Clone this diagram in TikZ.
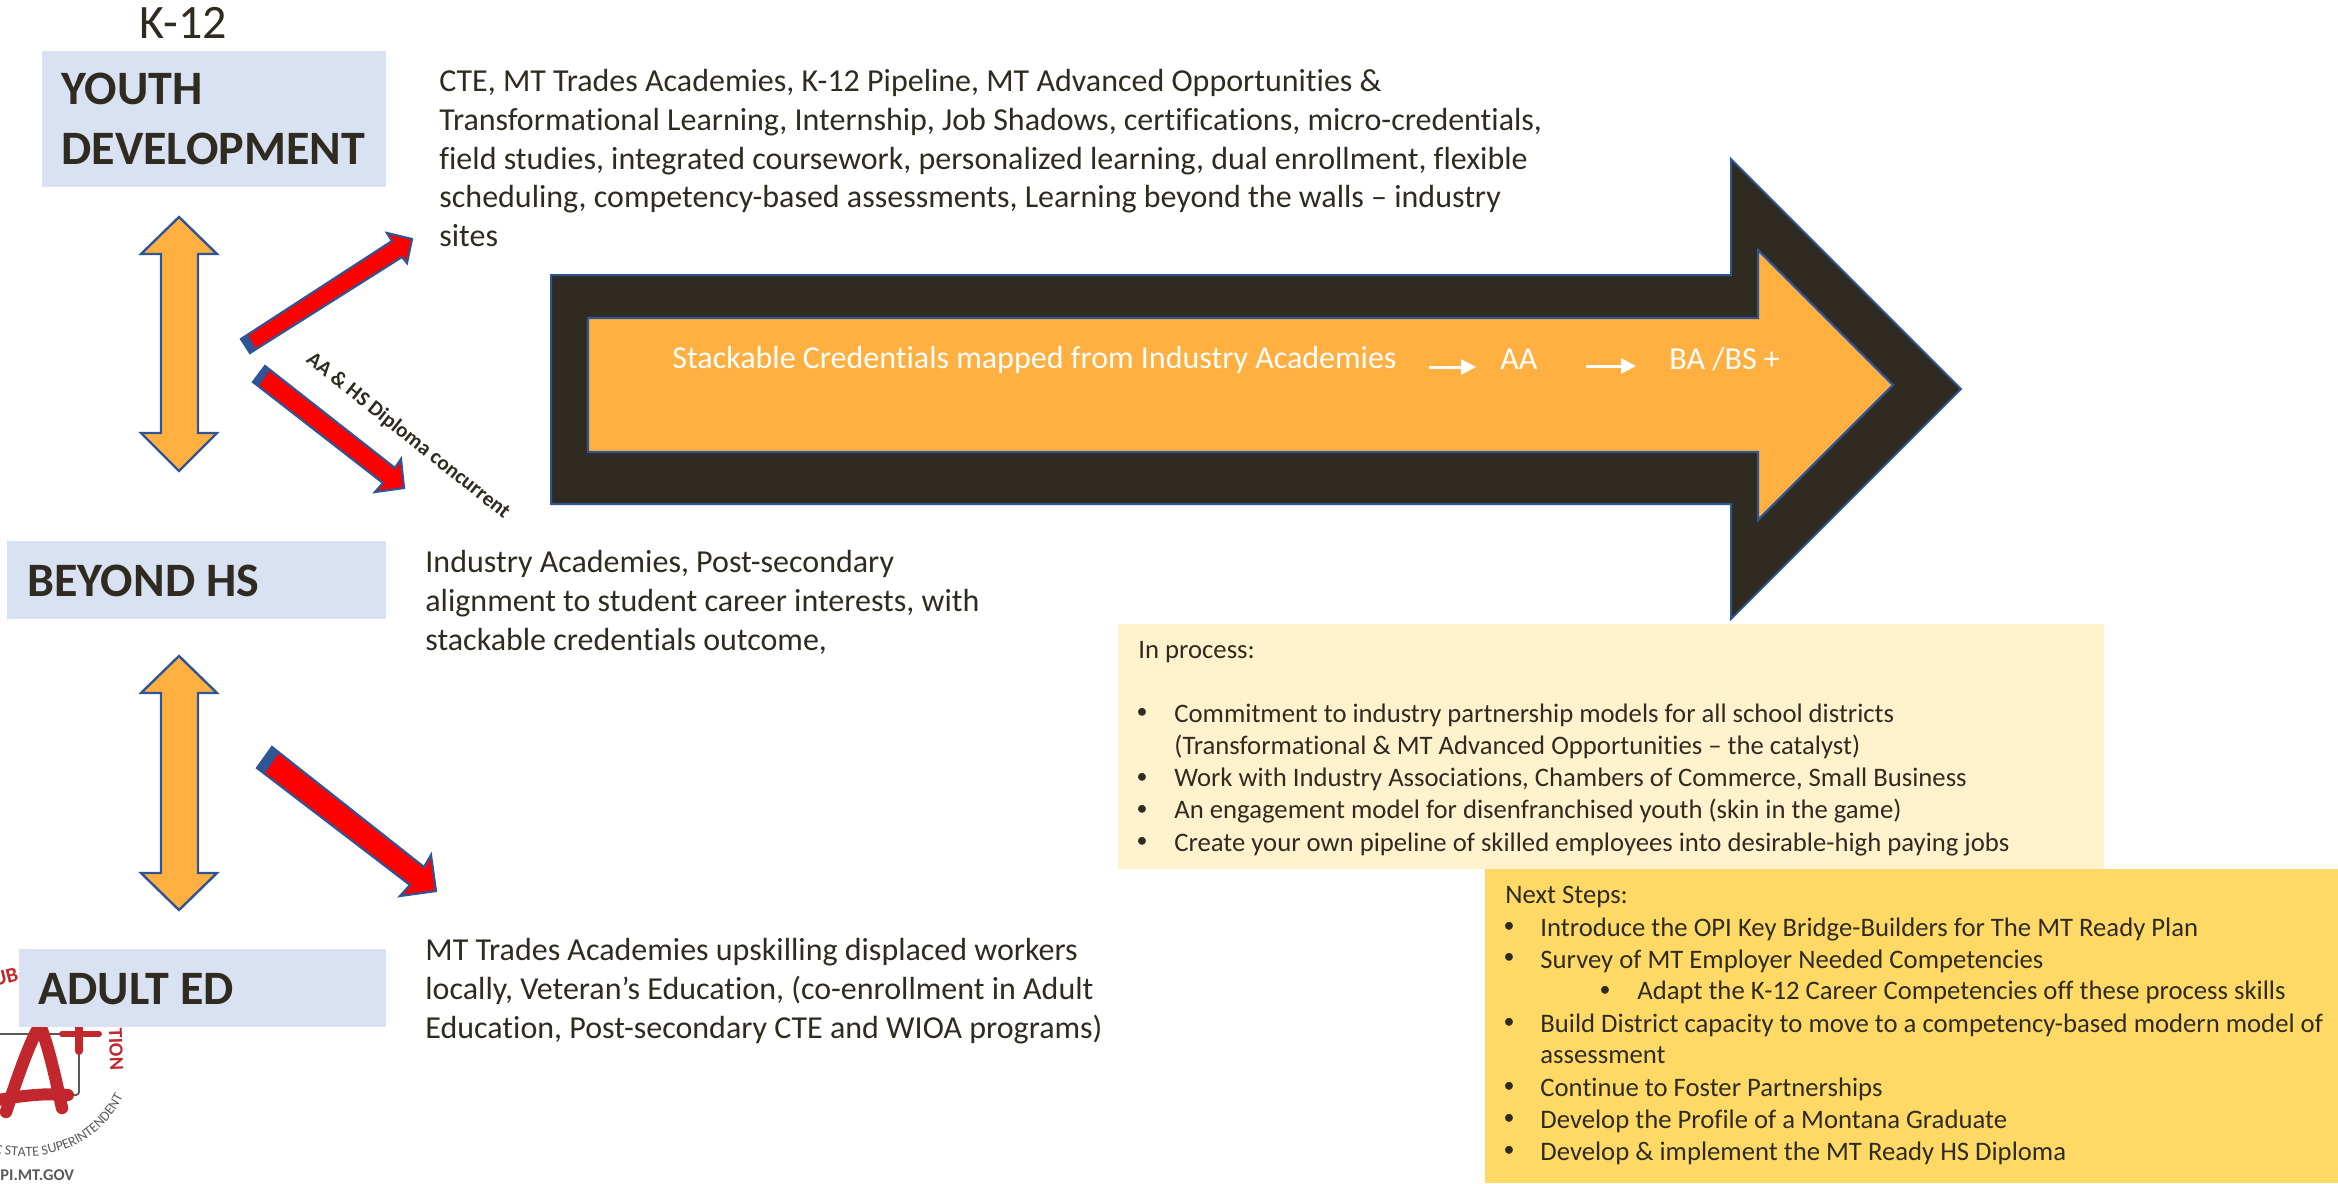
\documentclass[tikz,border=0pt]{standalone}
\usepackage{fontspec}
\setmainfont[Ligatures=CommonOff]{Carlito}
\usetikzlibrary{decorations.text,arrows.meta}
\definecolor{ink}{HTML}{2F2B20}
\definecolor{bluefill}{HTML}{D9E2F3}
\definecolor{orangefill}{HTML}{FFB041}
\definecolor{edge}{HTML}{2F5597}
\definecolor{pale}{HTML}{FFF2CC}
\definecolor{gold}{HTML}{FFD966}
\definecolor{logored}{HTML}{C1272D}
\definecolor{loggray}{HTML}{58595B}
\tikzset{
 x=0.5pt,y=-0.5pt,
 headtxt/.style={font=\fontsize{24}{29.8}\selectfont\bfseries,text=ink,inner sep=0,align=left,anchor=west},
 bodytxt/.style={font=\fontsize{16}{19.35}\selectfont,text=ink,inner sep=0,align=left,anchor=north west},
 smalltxt/.style={font=\fontsize{13.35}{16}\selectfont,text=ink,inner sep=0,anchor=base west},
 bult/.style={font=\fontsize{11}{12}\selectfont,text=ink,inner sep=0,anchor=center},
 whitetxt/.style={anchor=base west,inner sep=0,text=white,font=\fontsize{16}{19}\selectfont},
 dbl/.style={fill=orangefill,draw=edge,line width=1.2pt,miter limit=10},
 redarrow/.style={fill=red,draw=edge,line width=1.1pt,line join=miter},
 bigout/.style={fill=ink,draw=edge,line width=1pt},
 bigin/.style={fill=orangefill,draw=edge,line width=1.2pt},
 wht/.style={draw=white,line width=1.5pt,-{Triangle[length=7.5pt,width=7.5pt]}},
}
\begin{document}
\begin{tikzpicture}
\useasboundingbox (0,0) rectangle (2338,1183);
% logo
\draw[loggray,line width=0.9pt,rounded corners=1.5pt] (0,1034) -- (79,1034) -- (79,1095) -- (0,1095);
\draw[logored,line width=6.2pt,line cap=round,line join=round] (6,1112) .. controls (15,1085) and (28,1045) .. (40,1025) .. controls (50,1050) and (58,1090) .. (62,1108);
\draw[logored,line width=6pt,line cap=round] (-2,1100) .. controls (25,1095) and (50,1093) .. (68,1095);
\draw[logored,line width=3pt,line cap=round] (62,1034) -- (99,1034);
\draw[logored,line width=4pt,line cap=round] (79,1020) -- (79,1051);
\node (tion) [rotate=-88,text=logored,font=\fontsize{10}{10}\selectfont\bfseries,inner sep=0] at (116,1049) {TION};
\node (ub) [anchor=east,rotate=14,text=logored,font=\fontsize{10.5}{10}\selectfont\bfseries,inner sep=0] at (18,974) {UB};
\path[postaction={decorate},decoration={text along path,text align={left},text={|\fontsize{7}{8}\selectfont\color{loggray}|C STATE SUPERINTENDENT}}] (-6,1153) .. controls (55,1166) and (110,1140) .. (130,1080);
\node (gov) [anchor=west,inner sep=0,text=loggray,font=\fontsize{8.2}{10}\selectfont\bfseries] at (0,1175) {PI.MT.GOV};
% heading boxes
\node (k12) [font=\fontsize{24}{28}\selectfont,text=ink,inner sep=0] at (183,23) {K-12};
\fill[bluefill] (42,51) rectangle (386,187);
\node (yd) [headtxt] at (61,119) {YOUTH\\DEVELOPMENT};
\fill[bluefill] (7,541) rectangle (386,619);
\node (bh) [headtxt] at (27,581) {BEYOND HS};
\fill[bluefill] (19,949) rectangle (386,1027);
\node (ae) [headtxt] at (38,989) {ADULT ED};
% body text
\node (t1) [bodytxt] at (439,69) {CTE, MT Trades Academies, K-12 Pipeline, MT Advanced Opportunities \&\\Transformational Learning, Internship, Job Shadows, certifications, micro-credentials,\\field studies, integrated coursework, personalized learning, dual enrollment, flexible\\scheduling, competency-based assessments, Learning beyond the walls – industry\\sites};
\node (t2) [bodytxt] at (425,550) {Industry Academies, Post-secondary\\alignment to student career interests, with\\stackable credentials outcome,};
\node (t3) [bodytxt] at (425,938) {MT Trades Academies upskilling displaced workers\\locally, Veteran’s Education, (co-enrollment in Adult\\Education, Post-secondary CTE and WIOA programs)};
% double arrows
\draw[dbl] (179,217) -- (217,254) -- (198,254) -- (198,433) -- (217,433) -- (179,471) -- (141,433) -- (161,433) -- (161,254) -- (141,254) -- cycle;
\draw[dbl] (179,656) -- (217,693) -- (198,693) -- (198,873) -- (217,873) -- (179,910) -- (141,873) -- (161,873) -- (161,693) -- (141,693) -- cycle;
% red arrows
\draw[redarrow] (241,339) -- (392,241) -- (387,233) -- (412,239) -- (407,263) -- (402,257) -- (250,353) -- cycle;
\fill[edge] (241,339) -- (248,335) -- (256,349) -- (250,353) -- cycle;
\draw[redarrow] (265,366) -- (395,468) -- (401,459) -- (404,488) -- (375,492) -- (383,483) -- (253,382) -- cycle;
\fill[edge] (265,366) -- (270,370) -- (259,386) -- (253,382) -- cycle;
\draw[redarrow] (272,747) -- (424,867) -- (431,855) -- (436,891) -- (400,896) -- (410,885) -- (257,768) -- cycle;
\fill[edge] (272,747) -- (279,753) -- (265,773) -- (257,768) -- cycle;
\node (aa) [rotate=-38.5,font=\fontsize{10.6}{12}\selectfont\bfseries,text=ink,inner sep=0] at (408,436) {AA \& HS Diploma concurrent};
% big arrow
\draw[bigout] (551,275) -- (1731,275) -- (1731,159) -- (1961,389) -- (1731,619) -- (1731,504) -- (551,504) -- cycle;
\draw[bigin] (588,318) -- (1758,318) -- (1758,250) -- (1893,385) -- (1758,520) -- (1758,452) -- (588,452) -- cycle;
\node (s1) [whitetxt] at (672,368) {Stackable Credentials mapped from Industry Academies};
\node (s2) [whitetxt] at (1500,369) {AA};
\node (s3) [whitetxt] at (1669,369) {BA /BS +};
\coordinate (a1) at (1429,367);
\coordinate (a2) at (1476,367);
\coordinate (a3) at (1586,366);
\coordinate (a4) at (1636,366);
\draw[wht] (a1) -- (a2);
\draw[wht] (a3) -- (a4);
% in-process box
\fill[pale] (1118,624) rectangle (2104,869);
\node (p0) [smalltxt] at (1138,658) {In process:};
\node (p1) [bult] at (1142,713) {•};
\node (p1t) [smalltxt] at (1174,722) {Commitment to industry partnership models for all school districts};
\node (p1u) [smalltxt] at (1174,754) {(Transformational \& MT Advanced Opportunities – the catalyst)};
\node (p2) [bult] at (1142,778) {•};
\node (p2t) [smalltxt] at (1174,786) {Work with Industry Associations, Chambers of Commerce, Small Business};
\node (p3) [bult] at (1142,810) {•};
\node (p3t) [smalltxt] at (1174,818) {An engagement model for disenfranchised youth (skin in the game)};
\node (p4) [bult] at (1142,842) {•};
\node (p4t) [smalltxt] at (1174,851) {Create your own pipeline of skilled employees into desirable-high paying jobs};
% next-steps box
\fill[gold] (1485,869) rectangle (2338,1183);
\node (n0) [smalltxt] at (1505,903) {Next Steps:};
\node (n1) [bult] at (1509,927) {•};
\node (n1t) [smalltxt] at (1540,936) {Introduce the OPI Key Bridge-Builders for The MT Ready Plan};
\node (n2) [bult] at (1509,958) {•};
\node (n2t) [smalltxt] at (1540,968) {Survey of MT Employer Needed Competencies};
\node (n3) [bult] at (1605,991) {•};
\node (n3t) [smalltxt] at (1637,999) {Adapt the K-12 Career Competencies off these process skills};
\node (n4) [bult] at (1509,1023) {•};
\node (n4t) [smalltxt] at (1540,1032) {Build District capacity to move to a competency-based modern model of};
\node (n4u) [smalltxt] at (1540,1063) {assessment};
\node (n5) [bult] at (1509,1087) {•};
\node (n5t) [smalltxt] at (1540,1096) {Continue to Foster Partnerships};
\node (n6) [bult] at (1509,1119) {•};
\node (n6t) [smalltxt] at (1540,1128) {Develop the Profile of a Montana Graduate};
\node (n7) [bult] at (1509,1151) {•};
\node (n7t) [smalltxt] at (1540,1160) {Develop \& implement the MT Ready HS Diploma};
\end{tikzpicture}
\end{document}
